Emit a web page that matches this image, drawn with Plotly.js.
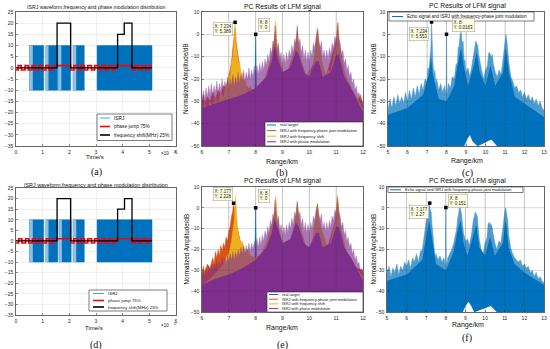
<!DOCTYPE html>
<html><head><meta charset="utf-8">
<script src="https://cdn.plot.ly/plotly-3.0.1.min.js"></script>
<style>html,body{margin:0;padding:0;background:#fff;}#chart{width:550px;height:349px;}</style>
</head><body><div id="chart"></div>
<script>
// ================= DATA =================
// Panel (a)
const isrjStartA = [0.51, 1.12, 1.60, 2.14, 3.04];
const isrjEndA   = [1.04, 1.56, 2.05, 2.56, 5.10];
const isrjLightStartA = [0.51, 1.12, 1.60, 2.14];
const isrjLightEndA   = [0.63, 1.22, 1.70, 2.26];
const isrjLevels = [-10, 10];
const phaseXA = [0,0.08,0.2,0.34,0.46,0.6,0.72,0.86,0.98,1.12,1.24,1.38,1.54,2.05,2.17,2.31,2.43,2.57,2.69,2.83,2.95,3.09,3.21,3.35,3.47,3.61,3.73,3.81,4.35,4.47,4.61,4.73,4.87,4.99,5.10];
const phaseYA = [-1,1,-1,1,-1,1,-1,1,-1,1,-1,1,1,-1,1,-1,1,-1,1,-1,1,-1,1,-1,1,-1,1,1,-1,1,-1,1,-1,1,1];
const freqXA = [0, 1.54, 2.05, 3.81, 4.06, 4.35, 5.10];
const freqYA = [0, 20, 0, 15, 20, 0, 0];
// Panel (d)
const isrjStartD = [0.51, 1.12, 1.62, 2.14, 3.04];
const isrjEndD   = [1.04, 1.57, 2.07, 2.56, 5.10];
const isrjLightStartD = [0.51, 1.12, 1.62, 2.14];
const isrjLightEndD   = [0.63, 1.22, 1.72, 2.26];
const phaseXD = [0,0.1,0.22,0.36,0.48,0.62,0.74,0.88,1.0,1.14,1.26,1.4,1.54,2.05,2.17,2.31,2.43,2.57,2.69,2.83,2.95,3.09,3.21,3.35,3.47,3.61,3.73,3.81,4.35,4.47,4.61,4.73,4.87,4.99,5.10];
const phaseYD = [-1,1,-1,1,-1,1,-1,1,-1,1,-1,1,1,-1,1,-1,1,-1,1,-1,1,-1,1,-1,1,-1,1,1,-1,1,-1,1,-1,1,1];
const freqXD = [0, 1.54, 2.05, 3.81, 4.07, 4.35, 5.10];
const freqYD = [0, 20, 0, 15, 20, 0, 0];

// Panel (b): upper envelopes (Range/km, dB)
const bBlueX = [6.0,7.0,7.9,7.97,8.0,8.03,8.1,9.0,9.5,10.3,11.0,12.0];
const bBlueY = [-48,-46,-38,-25,0,-25,-38,-42,-40,-40,-43,-48];
const bRedX = [6.0,6.05,6.1,6.2,6.3,6.4,6.5,6.6,6.7,6.8,6.9,7.0,7.05,7.1,7.15,7.2,7.234,7.27,7.32,7.38,7.45,7.55,7.65,7.8,8.0,8.3,8.6,8.72,8.85,9.1,9.5,9.6,9.9,10.3,10.6,11.05,11.3,11.6,11.8,11.9,12.0];
const bRedY = [-30,-27,-31,-28,-30,-26,-29,-25,-27,-23,-24,-19,-16,-12,-6,-1,3,-3,-9,-13,-18,-21,-23,-25,-26,-22,-10,0,-10,-20,-6,-8,-20,-9,-20,-1,-18,-26,-30,-27,-31];
const bYelX = [6.0,6.1,6.2,6.3,6.4,6.5,6.6,6.7,6.8,6.9,6.95,7.0,7.05,7.1,7.15,7.2,7.234,7.26,7.3,7.35,7.4,7.45,7.5,7.55,7.6,7.7,7.8,7.9,8.0,8.1,8.2,8.3,8.4,8.5,8.6,8.65,8.7,8.75,8.8,8.85,8.9,9.0,9.1,9.2,9.3,9.4,9.5,9.55,9.6,9.7,9.8,9.9,10.0,10.1,10.2,10.25,10.32,10.38,10.5,10.6,10.7,10.8,10.9,11.0,11.07,11.12,11.2,11.3,11.4,11.5,11.6,11.7,11.8,11.9,12.0];
const bYelY = [-36,-31,-35,-30,-33,-28,-31,-26,-28,-22,-24,-18,-20,-12,-10,-2,5.4,-3,-8,-13,-12,-18,-17,-22,-20,-25,-23,-26,-24,-27,-23,-22,-18,-16,-9,-6,-2,5.8,-4,-8,-12,-18,-16,-19,-15,-10,-3,3,-5,-12,-17,-19,-16,-18,-8,-4,2,-5,-14,-18,-16,-17,-10,-4,5.5,-4,-10,-16,-20,-22,-25,-27,-29,-31,-34];
const bPurX = [6.0,6.05,6.1,6.15,6.2,6.25,6.3,6.35,6.4,6.45,6.5,6.55,6.6,6.65,6.7,6.75,6.8,6.85,6.9,6.95,7.0,7.05,7.1,7.15,7.2,7.25,7.3,7.35,7.4,7.45,7.5,7.55,7.6,7.65,7.7,7.75,7.8,7.85,7.9,7.95,8.0,8.05,8.1,8.15,8.2,8.25,8.3,8.35,8.4,8.45,8.5,8.55,8.6,8.64,8.68,8.72,8.76,8.8,8.85,8.9,8.95,9.0,9.05,9.1,9.15,9.2,9.25,9.3,9.35,9.4,9.45,9.5,9.55,9.6,9.65,9.7,9.75,9.8,9.85,9.9,9.95,10.0,10.05,10.1,10.15,10.2,10.25,10.3,10.35,10.4,10.45,10.5,10.55,10.6,10.65,10.7,10.75,10.8,10.85,10.9,10.95,11.0,11.05,11.1,11.15,11.2,11.25,11.3,11.35,11.4,11.45,11.5,11.55,11.6,11.65,11.7,11.75,11.8,11.85,11.9,11.95,12.0];
const bPurY = [-30,-25,-29,-24,-28,-23,-27,-22,-27,-23,-26,-21,-26,-22,-25,-20,-25,-21,-24,-19,-24,-20,-23,-18,-23,-19,-22,-17,-22,-18,-21,-16,-21,-17,-20,-15,-20,-16,-19,-14,-19,-14,-18,-13,-17,-12,-16,-11,-14,-9,-12,-6,-9,-3,-5,4,-3,-7,-4,-11,-8,-13,-9,-13,-8,-12,-7,-10,-5,-8,-2,-4,4,-4,-2,-8,-5,-11,-7,-12,-8,-12,-7,-10,-4,-6,-1,3,-3,-6,-3,-10,-7,-11,-7,-11,-6,-9,-4,-6,-1,-3,5,-2,-4,-9,-7,-13,-11,-16,-14,-19,-17,-22,-20,-25,-23,-27,-26,-30,-29,-33];
const bPurCoreX = [6.0,6.5,7.0,7.5,8.0,8.4,8.6,8.7,8.75,8.85,9.0,9.3,9.5,9.6,9.8,10.0,10.25,10.35,10.5,10.8,11.0,11.1,11.3,11.6,12.0];
const bPurCoreY = [-33,-31,-29,-27,-24,-19,-12,-5,-7,-12,-17,-15,-7,-9,-17,-19,-12,-12,-19,-17,-9,-9,-19,-25,-35];
const bTipX = [7.234, 8];
const bTipY = [5.389, 0];

// Panel (c)
const cUpX = [5.0,5.1,5.2,5.3,5.4,5.5,5.6,5.7,5.8,5.9,6.0,6.1,6.2,6.3,6.4,6.5,6.6,6.7,6.8,6.9,7.0,7.05,7.1,7.15,7.2,7.234,7.26,7.3,7.35,7.4,7.45,7.5,7.6,7.7,7.8,7.9,7.98,8.0,8.02,8.1,8.2,8.3,8.4,8.5,8.55,8.6,8.65,8.7,8.75,8.8,8.85,8.9,8.95,9.0,9.1,9.2,9.3,9.4,9.45,9.5,9.55,9.6,9.65,9.7,9.8,9.9,10.0,10.1,10.15,10.2,10.3,10.35,10.4,10.5,10.6,10.7,10.8,10.9,10.95,11.0,11.05,11.1,11.15,11.2,11.3,11.4,11.5,11.6,11.7,11.8,11.9,12.0,12.1,12.2,12.3,12.4,12.5,12.6,12.7,12.8,12.9,13.0];
const cUpY = [-34,-29,-33,-28,-32,-27,-31,-28,-31,-26,-30,-25,-29,-24,-28,-23,-27,-22,-25,-20,-21,-15,-16,-8,-6,5.55,-8,-12,-18,-16,-22,-20,-25,-22,-26,-23,-27,0.02,-27,-22,-24,-19,-20,-13,-14,-6,-5,0,1,-4,-3,-11,-12,-17,-15,-19,-14,-9,-6,-3,-4,-5,-9,-12,-16,-20,-16,-14,-9,-8,-10,-9,-13,-17,-19,-16,-18,-11,-7,-2,0,-3,-8,-13,-19,-21,-24,-23,-26,-25,-28,-26,-29,-27,-30,-28,-31,-29,-32,-30,-33,-34];
const cCoreX = [5.0,6.0,6.8,7.1,7.2,7.3,7.6,8.0,8.4,8.6,8.75,8.9,9.1,9.4,9.55,9.7,10.0,10.25,10.5,10.9,11.05,11.2,11.5,12.0,13.0];
const cCoreY = [-36,-33,-27,-18,-10,-18,-29,-30,-23,-12,-6,-15,-23,-14,-8,-17,-23,-14,-23,-17,-6,-17,-28,-31,-37];
const cLowX = [5.0,8.9,9.05,9.2,9.35,9.6,10.05,10.3,10.6,13.0];
const cLowY = [-50,-50,-47,-45,-48,-50,-48,-47,-50,-50];
const cTipX = [7.234, 8];
const cTipY = [5.553, 0.0163];

// Panel (e)
const eBlueX = [6.0,7.0,7.9,7.97,8.0,8.03,8.1,9.0,9.5,10.3,11.0,12.0];
const eBlueY = [-48,-46,-38,-25,0,-25,-38,-42,-40,-40,-43,-48];
const eRedX = [6.0,6.05,6.1,6.2,6.3,6.4,6.45,6.5,6.55,6.6,6.65,6.7,6.75,6.8,6.85,6.9,6.95,7.0,7.05,7.1,7.14,7.177,7.21,7.25,7.3,7.35,7.4,7.45,7.5,7.6,7.7,7.8,8.0,8.3,8.6,8.72,8.85,9.1,9.5,9.6,9.9,10.3,10.6,11.05,11.3,11.6,12.0];
const eRedY = [-31,-28,-31,-27,-29,-24,-27,-21,-24,-20,-23,-18,-21,-17,-19,-14,-16,-11,-9,-4,-2,2.2,-2,-5,-9,-12,-15,-17,-19,-21,-23,-24,-26,-24,-12,-2,-12,-22,-8,-10,-22,-10,-22,-3,-20,-28,-30];
const eYelX = [6.0,6.2,6.4,6.6,6.8,6.9,7.0,7.1,7.15,7.2,7.25,7.28,7.32,7.38,7.45,7.5,7.6,7.7,7.8,8.0,8.2,8.4,8.6,8.7,8.75,8.8,8.9,9.1,9.3,9.45,9.55,9.65,9.9,10.1,10.2,10.3,10.4,10.7,10.95,11.05,11.15,11.4,11.8,12.0];
const eYelY = [-38,-35,-33,-30,-27,-24,-22,-16,-12,-6,5.5,-4,-9,-14,-17,-16,-21,-20,-23,-24,-22,-17,-8,-2,5.5,-3,-12,-20,-17,-8,3,-8,-20,-17,-8,2,-8,-20,-8,6,-8,-22,-30,-33];
const ePurX = [6.0,6.05,6.1,6.15,6.2,6.25,6.3,6.35,6.4,6.45,6.5,6.55,6.6,6.65,6.7,6.75,6.8,6.85,6.9,6.95,7.0,7.05,7.1,7.15,7.2,7.25,7.3,7.35,7.4,7.45,7.5,7.55,7.6,7.65,7.7,7.75,7.8,7.85,7.9,7.95,8.0,8.05,8.1,8.15,8.2,8.25,8.3,8.35,8.4,8.45,8.5,8.55,8.6,8.64,8.68,8.72,8.76,8.8,8.85,8.9,8.95,9.0,9.05,9.1,9.15,9.2,9.25,9.3,9.35,9.4,9.45,9.5,9.55,9.6,9.65,9.7,9.75,9.8,9.85,9.9,9.95,10.0,10.05,10.1,10.15,10.2,10.25,10.3,10.35,10.4,10.45,10.5,10.55,10.6,10.65,10.7,10.75,10.8,10.85,10.9,10.95,11.0,11.05,11.1,11.15,11.2,11.25,11.3,11.35,11.4,11.45,11.5,11.55,11.6,11.65,11.7,11.75,11.8,11.85,11.9,11.95,12.0];
const ePurY = [-34,-30,-33,-29,-32,-28,-31,-27,-30,-27,-29,-25,-29,-26,-28,-24,-27,-24,-27,-23,-26,-22,-25,-21,-25,-21,-24,-20,-23,-19,-22,-18,-22,-18,-21,-17,-21,-17,-20,-16,-20,-15,-19,-14,-18,-13,-16,-11,-14,-9,-12,-6,-9,-3,-5,4,-3,-7,-4,-11,-8,-13,-9,-13,-8,-12,-7,-10,-5,-8,-2,-4,3,-4,-2,-8,-5,-11,-7,-12,-8,-12,-7,-10,-4,-6,-1,2,-3,-6,-3,-10,-7,-11,-7,-11,-6,-9,-4,-6,-1,-3,5,-2,-4,-9,-7,-13,-11,-16,-14,-19,-17,-22,-20,-25,-23,-27,-26,-30,-29,-33];
const ePurCoreX = [6.0,6.5,7.0,7.5,8.0,8.4,8.6,8.7,8.75,8.85,9.0,9.3,9.5,9.6,9.8,10.0,10.25,10.35,10.5,10.8,11.0,11.1,11.3,11.6,12.0];
const ePurCoreY = [-37,-34,-32,-29,-25,-19,-12,-5,-7,-12,-17,-15,-7,-9,-17,-19,-12,-12,-19,-17,-9,-9,-19,-25,-35];
const eTipX = [7.177, 8];
const eTipY = [2.228, 0];

// Panel (f)
const fUpX = [5.0,5.1,5.2,5.3,5.4,5.5,5.6,5.7,5.8,5.9,6.0,6.1,6.2,6.3,6.4,6.5,6.6,6.7,6.8,6.9,6.95,7.0,7.05,7.1,7.15,7.177,7.2,7.25,7.3,7.35,7.4,7.45,7.5,7.6,7.7,7.8,7.9,7.98,8.0,8.02,8.1,8.2,8.3,8.4,8.5,8.55,8.6,8.65,8.7,8.75,8.8,8.85,8.9,9.0,9.1,9.2,9.3,9.4,9.45,9.5,9.55,9.6,9.65,9.7,9.8,9.9,10.0,10.1,10.15,10.2,10.3,10.35,10.4,10.5,10.6,10.7,10.8,10.9,10.95,11.0,11.05,11.1,11.15,11.2,11.3,11.4,11.5,11.6,11.7,11.8,11.9,12.0,12.1,12.2,12.3,12.4,12.5,12.6,12.7,12.8,12.9,13.0];
const fUpY = [-31,-28,-33,-29,-31,-27,-32,-28,-30,-26,-28,-25,-29,-24,-26,-22,-26,-21,-20,-14,-10,-8,-3,-4,0,2.27,-1,-2,-9,-14,-20,-24,-22,-25,-23,-26,-24,-28,0.151,-28,-24,-22,-20,-17,-12,-10,-5,-3,1,-1,-3,-8,-12,-16,-15,-18,-13,-6,-4,-2,-3,-4,-10,-15,-20,-22,-17,-14,-8,-7,-8,-9,-12,-17,-20,-16,-17,-11,-6,-2,0,-3,-6,-13,-19,-22,-24,-25,-26,-25,-28,-27,-29,-28,-31,-30,-33,-31,-34,-33,-35,-36];
const fCoreX = [5.0,6.0,6.8,7.0,7.15,7.3,7.5,8.0,8.4,8.6,8.75,8.9,9.1,9.4,9.55,9.7,10.0,10.25,10.5,10.9,11.05,11.2,11.5,12.0,13.0];
const fCoreY = [-35,-32,-25,-14,-6,-15,-27,-30,-21,-11,-6,-17,-23,-13,-8,-19,-23,-14,-23,-17,-6,-19,-27,-31,-37];
const fLowX = [5.0,8.85,9.0,9.15,9.3,9.45,10.0,10.3,10.6,13.0];
const fLowY = [-50,-50,-47,-45,-47,-50,-48,-47,-50,-50];
const fTipX = [7.177, 8];
const fTipY = [2.27, 0.151];

// axes ranges & ticks
const timeRange = [0, 6];
const ampRangeA = [-35, 25];
const timeTicks = [0,1,2,3,4,5,6];
const ampTicksA = [-35,-30,-25,-20,-15,-10,-5,0,5,10,15,20,25];
const rangeB = [6, 12];
const rangeC = [5, 13];
const dbRange = [-50, 10];
const rangeTicksB = [6,7,8,9,10,11,12];
const rangeTicksC = [5,6,7,8,9,10,11,12,13];
const dbTicks = [-50,-40,-30,-20,-10,0,10];

// ================= BUILD =================
const W = 550, H = 349;
const PX = x => x / W, PY = y => 1 - y / H;
const BLUE = 'rgb(0,114,189)', ORANGE = 'rgb(217,83,25)', YELLOW = 'rgb(237,177,32)', PURPLE = 'rgb(126,47,142)';
const FONT = 'Liberation Sans, Arial, sans-serif';

function rects(starts, ends, lv) {
  const x = [], y = [];
  starts.forEach((s, i) => { x.push(s, s, ends[i], ends[i], s, null); y.push(lv[0], lv[1], lv[1], lv[0], lv[0], null); });
  return {x, y};
}
function envPoly(xs, ys, floor) {
  return {x: [xs[0]].concat(xs, [xs[xs.length - 1]]), y: [floor].concat(ys, [floor])};
}
function band(ux, uy, lx, ly) {
  return {x: ux.concat(lx.slice().reverse()), y: uy.concat(ly.slice().reverse())};
}
const traces = [];
function fillTrace(p, xa, ya, color, op, lw) {
  traces.push({type: 'scatter', mode: 'lines', x: p.x, y: p.y, xaxis: xa, yaxis: ya, fill: 'toself',
    fillcolor: color, opacity: op || 1, line: {color: color, width: lw === undefined ? 0.5 : lw}, hoverinfo: 'skip'});
}
function timePanel(xa, ya, st, en, ls, le, phX, phY, fX, fY) {
  fillTrace(rects(st, en, isrjLevels), xa, ya, BLUE);
  const l = rects(ls, le, isrjLevels);
  traces.push({type: 'scatter', mode: 'lines', x: l.x, y: l.y, xaxis: xa, yaxis: ya, fill: 'toself',
    fillcolor: 'rgba(190,218,242,0.75)', line: {width: 0}, hoverinfo: 'skip'});
  traces.push({type: 'scatter', mode: 'lines', x: phX, y: phY, xaxis: xa, yaxis: ya, line: {color: 'rgb(255,0,0)', width: 1.6, shape: 'hv'}});
  traces.push({type: 'scatter', mode: 'lines', x: fX, y: fY, xaxis: xa, yaxis: ya, line: {color: '#000', width: 1.3, shape: 'hv'}});
}
timePanel('x', 'y', isrjStartA, isrjEndA, isrjLightStartA, isrjLightEndA, phaseXA, phaseYA, freqXA, freqYA);
const F = dbRange[0];
fillTrace(envPoly(bBlueX, bBlueY, F), 'x2', 'y2', BLUE);
fillTrace(envPoly(bRedX, bRedY, F), 'x2', 'y2', ORANGE);
fillTrace(envPoly(bYelX, bYelY, F), 'x2', 'y2', YELLOW);
fillTrace(envPoly(bPurX, bPurY, F), 'x2', 'y2', PURPLE, 0.65, 0.4);
fillTrace(envPoly(bPurCoreX, bPurCoreY, F), 'x2', 'y2', PURPLE, 1, 0);
fillTrace(band(cUpX, cUpY, cLowX, cLowY), 'x3', 'y3', BLUE, 0.7, 0.5);
fillTrace(band(cCoreX, cCoreY, cLowX, cLowY), 'x3', 'y3', BLUE, 1, 0);
timePanel('x4', 'y4', isrjStartD, isrjEndD, isrjLightStartD, isrjLightEndD, phaseXD, phaseYD, freqXD, freqYD);
fillTrace(envPoly(eBlueX, eBlueY, F), 'x5', 'y5', BLUE);
fillTrace(envPoly(eRedX, eRedY, F), 'x5', 'y5', ORANGE);
fillTrace(envPoly(eYelX, eYelY, F), 'x5', 'y5', YELLOW);
fillTrace(envPoly(ePurX, ePurY, F), 'x5', 'y5', PURPLE, 0.65, 0.4);
fillTrace(envPoly(ePurCoreX, ePurCoreY, F), 'x5', 'y5', PURPLE, 1, 0);
fillTrace(band(fUpX, fUpY, fLowX, fLowY), 'x6', 'y6', BLUE, 0.7, 0.5);
fillTrace(band(fCoreX, fCoreY, fLowX, fLowY), 'x6', 'y6', BLUE, 1, 0);
[['x2','y2',bTipX,bTipY],['x3','y3',cTipX,cTipY],['x5','y5',eTipX,eTipY],['x6','y6',fTipX,fTipY]].forEach(t => {
  traces.push({type: 'scatter', mode: 'markers', x: t[2], y: t[3], xaxis: t[0], yaxis: t[1],
    marker: {symbol: 'square', size: 3.5, color: '#000'}, cliponaxis: false});
});

function axis(px0, px1, range, ticks, anchor, horiz) {
  return {domain: horiz ? [PX(px0), PX(px1)] : [PY(px1), PY(px0)], range: range, tickvals: ticks, anchor: anchor,
    showline: true, mirror: true, linecolor: '#262626', linewidth: 0.7, ticks: 'inside', ticklen: 2, tickwidth: 0.5,
    tickcolor: '#262626', showgrid: true, gridcolor: '#e2e2e2', gridwidth: 0.5, zeroline: false, fixedrange: true,
    tickfont: {size: 5, family: FONT, color: '#262626'}, ticklabelstandoff: 1};
}
const layout = {
  width: W, height: H, margin: {l: 0, r: 0, t: 0, b: 0}, paper_bgcolor: '#fff', plot_bgcolor: '#fff', showlegend: false,
  xaxis: axis(16, 176, timeRange, timeTicks, 'y', true),
  yaxis: axis(12, 146, ampRangeA, ampTicksA, 'x', false),
  xaxis2: axis(202, 363, rangeB, rangeTicksB, 'y2', true),
  yaxis2: axis(12, 146, dbRange, dbTicks, 'x2', false),
  xaxis3: axis(388, 544, rangeC, rangeTicksC, 'y3', true),
  yaxis3: axis(12, 146, dbRange, dbTicks, 'x3', false),
  xaxis4: axis(16, 176, timeRange, timeTicks, 'y4', true),
  yaxis4: axis(188, 315, ampRangeA, ampTicksA, 'x4', false),
  xaxis5: axis(202, 363, rangeB, rangeTicksB, 'y5', true),
  yaxis5: axis(187, 312, dbRange, dbTicks, 'x5', false),
  xaxis6: axis(387, 544, rangeC, rangeTicksC, 'y6', true),
  yaxis6: axis(187, 312, dbRange, dbTicks, 'x6', false),
  shapes: [], annotations: []
};
[['x2','y2',rangeTicksB,dbTicks],['x3','y3',rangeTicksC,dbTicks],['x5','y5',rangeTicksB,dbTicks],['x6','y6',rangeTicksC,dbTicks]].forEach(g => {
  g[2].slice(1, -1).forEach(v => layout.shapes.push({type: 'line', layer: 'above', xref: g[0], yref: g[1] + ' domain', x0: v, x1: v, y0: 0, y1: 1, line: {color: 'rgba(60,60,60,0.3)', width: 0.8}}));
  g[3].slice(1, -1).forEach(v => layout.shapes.push({type: 'line', layer: 'above', xref: g[0] + ' domain', yref: g[1], x0: 0, x1: 1, y0: v, y1: v, line: {color: 'rgba(60,60,60,0.2)', width: 0.6}}));
});
function txt(x, y, t, size, opts) {
  layout.annotations.push(Object.assign({xref: 'paper', yref: 'paper', x: PX(x), y: PY(y), text: t, showarrow: false,
    xanchor: 'center', yanchor: 'middle', font: {size: size, family: FONT, color: '#111'}}, opts || {}));
}
const T1 = 'ISRJ waveform,frequency and phase modulation distribution';
const T2 = 'PC Results of LFM signal';
txt(96, 7, T1, 5.2); txt(96, 185, T1, 5.4);
txt(282, 7, T2, 6.8); txt(467, 6, T2, 6.8); txt(282, 181, T2, 6.8); txt(467, 181, T2, 6.8);
txt(95, 157, 'Time/s', 6); txt(94, 327.5, 'Time/s', 6);
// exponent label: "×10" with a raised "-5"
txt(171, 153.5, '×10', 4.5, {xanchor: 'right'}); txt(171, 151.5, '-5', 3.5, {xanchor: 'left'});
txt(171, 325.5, '×10', 4.5, {xanchor: 'right'}); txt(171, 323.5, '-5', 3.5, {xanchor: 'left'});
txt(282, 162, 'Range/km', 7); txt(467, 161, 'Range/km', 7); txt(282, 328, 'Range/km', 7); txt(468, 325, 'Range/km', 7);
const YL = 'Normalized Amplitude/dB';
txt(186, 79, YL, 6.3, {textangle: -90}); txt(374, 79, YL, 6.3, {textangle: -90});
txt(186, 249.5, YL, 6.3, {textangle: -90}); txt(373, 249.5, YL, 6.3, {textangle: -90});
const CAP = {size: 10, family: 'Liberation Serif, Times New Roman, serif', color: '#111'};
[['(a)',96,172],['(b)',282,173],['(c)',467,173],['(d)',96,345],['(e)',282,345],['(f)',467,338]].forEach(c => {
  layout.annotations.push({xref: 'paper', yref: 'paper', x: PX(c[1]), y: PY(c[2]), text: c[0], showarrow: false, font: CAP, xanchor: 'center', yanchor: 'middle'});
});
function legendBox(x0, y0, x1, y1, items, fs, lx0, lx1, tx) {
  layout.shapes.push({type: 'rect', xref: 'paper', yref: 'paper', x0: PX(x0), x1: PX(x1), y0: PY(y1), y1: PY(y0), fillcolor: '#fff', line: {color: '#262626', width: 0.6}, layer: 'above'});
  items.forEach(it => {
    layout.shapes.push({type: 'line', xref: 'paper', yref: 'paper', x0: PX(lx0), x1: PX(lx1), y0: PY(it[2]), y1: PY(it[2]), line: {color: it[1], width: it[3]}, layer: 'above'});
    txt(tx, it[2], it[0], fs, {xanchor: 'left'});
  });
}
legendBox(97, 114, 172, 140.5, [['ISRJ', 'rgb(90,160,215)', 118, 1], ['phase jump 75%', 'rgb(255,0,0)', 126.5, 1.6], ['frequency shift(MHz) 25%', '#000', 135, 1.6]], 4.8, 100, 110, 112);
legendBox(89, 290, 167, 311, [['ISRJ', 'rgb(90,160,215)', 293.5, 1], ['phase jump 75%', 'rgb(255,0,0)', 300.5, 1.6], ['frequency shift(MHz) 25%', '#000', 307, 1.6]], 4.4, 93, 104, 106);
const LB = [['real target', BLUE], ['ISRJ with frequency-phase joint modulation', ORANGE], ['ISRJ with frequency shift', YELLOW], ['ISRJ with phase modulation', PURPLE]];
legendBox(265, 122, 363, 146, LB.map((l, i) => [l[0], l[1], 125 + i * 5.6, 1]), 4, 267, 276, 278);
legendBox(267, 292, 363, 312, LB.map((l, i) => [l[0], l[1], 294.5 + i * 4.7, 1]), 3.9, 269, 278, 280);
legendBox(389, 12, 534, 21, [['Echo signal and ISRJ with frequency-phase joint modulation', BLUE, 16.5, 1]], 4.5, 392, 403, 405);
legendBox(388, 187, 523, 192.5, [['Echo signal and ISRJ with frequency-phase joint modulation', BLUE, 189.8, 1]], 4, 390, 401, 403);
function tip(xa, ya, x, y, xanchor, yanchor, xs, ys) {
  layout.annotations.push({xref: xa, yref: ya, x: x, y: y, text: 'X: ' + x + '<br>Y: ' + y, showarrow: false,
    xanchor: xanchor, yanchor: yanchor, xshift: xs, yshift: ys, align: 'left', bgcolor: 'rgb(255,255,228)',
    bordercolor: 'rgb(150,150,150)', borderwidth: 0.5, borderpad: 1, font: {size: 4.5, family: FONT, color: '#111'}});
}
tip('x2', 'y2', bTipX[0], bTipY[0], 'right', 'top', -2, 0);
tip('x2', 'y2', bTipX[1], bTipY[1], 'left', 'bottom', 2, 2);
tip('x3', 'y3', cTipX[0], cTipY[0], 'right', 'top', -3, -5);
tip('x3', 'y3', cTipX[1], cTipY[1], 'left', 'bottom', 5, 2);
tip('x5', 'y5', eTipX[0], eTipY[0], 'right', 'bottom', -1, 2);
tip('x5', 'y5', eTipX[1], eTipY[1], 'left', 'bottom', 2, 5);
tip('x6', 'y6', fTipX[0], fTipY[0], 'right', 'top', -1, -2);
tip('x6', 'y6', fTipX[1], fTipY[1], 'left', 'bottom', 2, 0);

Plotly.newPlot('chart', traces, layout, {staticPlot: true, displayModeBar: false});
</script></body></html>
